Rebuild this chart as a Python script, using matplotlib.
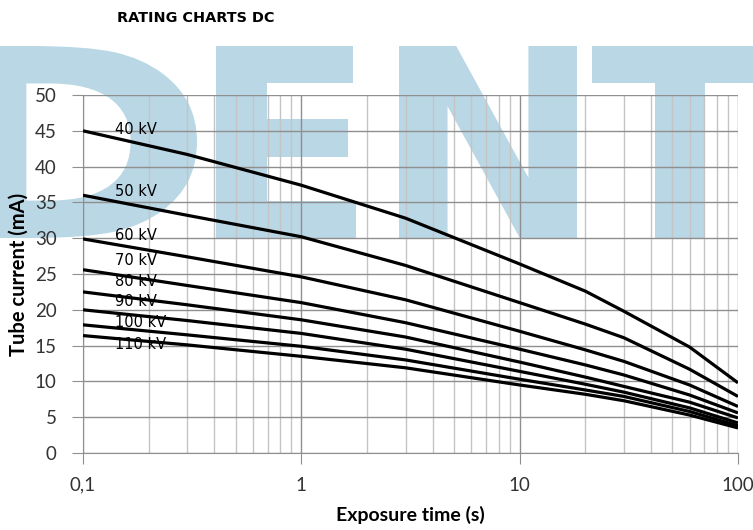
import matplotlib.pyplot as plt
from matplotlib.textpath import TextPath
from matplotlib.patches import PathPatch
from matplotlib.font_manager import FontProperties
from matplotlib.transforms import Affine2D
from matplotlib.ticker import FixedLocator, NullFormatter

# exposure time (s) and tube current (mA)
times = [0.1, 0.3, 1, 3, 10, 20, 30, 60, 100]
kv_labels = ['40 kV', '50 kV', '60 kV', '70 kV', '80 kV', '90 kV', '100 kV', '110 kV']
ma_40 = [45.0, 41.7, 37.4, 32.8, 26.4, 22.6, 19.8, 14.8, 9.8]
ma_50 = [36.0, 33.2, 30.2, 26.2, 21.0, 18.0, 16.1, 11.7, 7.9]
ma_60 = [29.9, 27.4, 24.6, 21.4, 17.0, 14.4, 12.8, 9.5, 6.5]
ma_70 = [25.6, 23.4, 21.0, 18.2, 14.5, 12.3, 10.9, 8.1, 5.6]
ma_80 = [22.5, 20.7, 18.6, 16.2, 12.7, 10.6, 9.3, 7.1, 4.9]
ma_90 = [20.0, 18.5, 16.7, 14.5, 11.4, 9.6, 8.5, 6.3, 4.2]
ma_100 = [17.9, 16.5, 14.9, 13.0, 10.3, 8.8, 7.9, 5.8, 3.8]
ma_110 = [16.4, 15.1, 13.5, 11.9, 9.5, 8.2, 7.3, 5.3, 3.5]
label_y = [45.25, 36.5, 30.4, 26.9, 23.9, 21.1, 18.2, 15.1]

x_ticks = [0.1, 1, 10, 100]
x_ticklabels = ['0,1', '1', '10', '100']
y_ticks = list(range(0, 51, 5))

curves = [ma_40, ma_50, ma_60, ma_70, ma_80, ma_90, ma_100, ma_110]

W, H = 753, 530
fig = plt.figure(figsize=(W / 100, H / 100), dpi=100)
ax = fig.add_axes([83 / W, 1 - 453 / H, (738 - 83) / W, (453 - 95) / H])
ax.set_facecolor('none')

# watermark letters behind the chart (pixel boxes: left, right)
fp = FontProperties(family='DejaVu Sans', weight='bold')
boxes = [(-38, 197), (216, 356), (399, 577), (592, 768)]
for ch, (x0, x1) in zip('DENT', boxes):
    tp = TextPath((0, 0), ch, size=100, prop=fp)
    ext = tp.get_extents()
    tr = (Affine2D().translate(-ext.x0, -ext.y0)
          .scale((x1 - x0) / ext.width, (238 - 46) / ext.height)
          .translate(x0, H - 238)
          .scale(1 / W, 1 / H))
    patch = PathPatch(tr.transform_path(tp), fc='#bad7e6', ec='none',
                      transform=fig.transFigure, zorder=-1)
    fig.add_artist(patch)

for vals in curves:
    ax.plot(times, vals, color='black', lw=2.3, solid_joinstyle='round',
            solid_capstyle='butt', zorder=3)

for lab, ly in zip(kv_labels, label_y):
    ax.text(0.14, ly, lab, fontsize=10.5, family='DejaVu Sans', va='center', ha='left', zorder=4)

ax.set_xscale('log')
ax.set_xlim(0.1, 100)
ax.set_ylim(0, 50)
ax.xaxis.set_major_locator(FixedLocator(x_ticks))
ax.set_xticklabels(x_ticklabels)
minors = [m * d for d in [0.1, 1, 10] for m in range(2, 10)]
ax.xaxis.set_minor_locator(FixedLocator(minors))
ax.xaxis.set_minor_formatter(NullFormatter())
ax.set_yticks(y_ticks)

ax.grid(True, which='major', color='#8f8f8f', lw=1)
ax.grid(True, which='minor', axis='x', color='#c4c4c4', lw=1)
ax.tick_params(axis='x', which='minor', length=0)
ax.tick_params(axis='both', which='major', length=8, color='#8f8f8f',
               labelsize=13.5, labelcolor='#333333')
ax.tick_params(axis='x', which='major', pad=9)
ax.tick_params(axis='y', which='major', pad=11)
for lbl in ax.get_xticklabels() + ax.get_yticklabels():
    lbl.set_family('Lato')

for s in ['top', 'right']:
    ax.spines[s].set_visible(False)
for s in ['left', 'bottom']:
    ax.spines[s].set_color('#8f8f8f')

ax.set_xlabel('Exposure time (s)', fontsize=14, fontweight='bold', family='Lato', labelpad=9)
ax.set_ylabel('Tube current (mA)', fontsize=14.5, fontweight='bold', family='Lato', labelpad=4)

fig.text(117 / W, 1 - 18 / H, 'RATING CHARTS DC', fontsize=10.4, fontweight='bold',
         family='DejaVu Sans', va='center', ha='left')

fig.savefig('out.png', dpi=100)
